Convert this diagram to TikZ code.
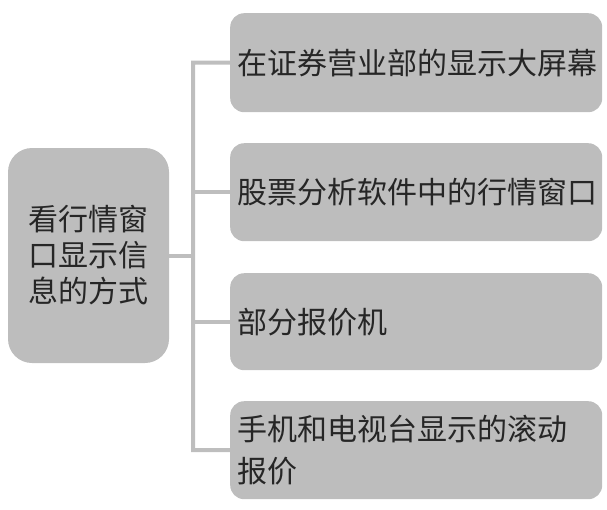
\documentclass[tikz,border=0pt]{standalone}
\usepackage{fontspec}
\newfontfamily\cjk{Noto Sans CJK SC}
\definecolor{boxgray}{HTML}{BDBDBD}
\definecolor{linegray}{HTML}{BEBEBE}
\tikzset{
  box/.style={fill=boxgray, draw=none, rounded corners=14pt, font=\cjk\fontsize{30}{40}\selectfont, text=black!85},
  conn/.style={draw=linegray, line width=4pt}
}
\begin{document}
\begin{tikzpicture}[x=1pt,y=-1pt]
\useasboundingbox (0,0) rectangle (607,509);
% left box
\node[box, minimum width=161pt, minimum height=215pt, align=center, rounded corners=24pt] (L) at (88.5,255.5) {看行情窗\\[-4pt]口显示信\\[-4pt]息的方式};
% right boxes
\node[box, minimum width=372pt, minimum height=99pt, anchor=north west, align=left, text width=358pt, inner xsep=7pt] (R1) at (230,13) {在证券营业部的显示大屏幕};
\node[box, minimum width=372pt, minimum height=98pt, anchor=north west, align=left, text width=358pt, inner xsep=7pt] (R2) at (230,143) {股票分析软件中的行情窗口};
\node[box, minimum width=372pt, minimum height=97pt, anchor=north west, align=left, text width=358pt, inner xsep=7pt] (R3) at (230,273) {部分报价机};
\node[box, minimum width=372pt, minimum height=98pt, anchor=north west, align=left, text width=358pt, inner xsep=7pt] (R4) at (230,401) {手机和电视台显示的滚动\\[2pt]报价};
% connectors
\coordinate (J) at (193,255.5);
\draw[conn] (L.east) -- (J);
\draw[conn] (R1.west) -| (193,450) -- (R4.west);
\draw[conn] (193,0 |- R2.west) -- (R2.west);
\draw[conn] (193,0 |- R3.west) -- (R3.west);
\end{tikzpicture}
\end{document}
